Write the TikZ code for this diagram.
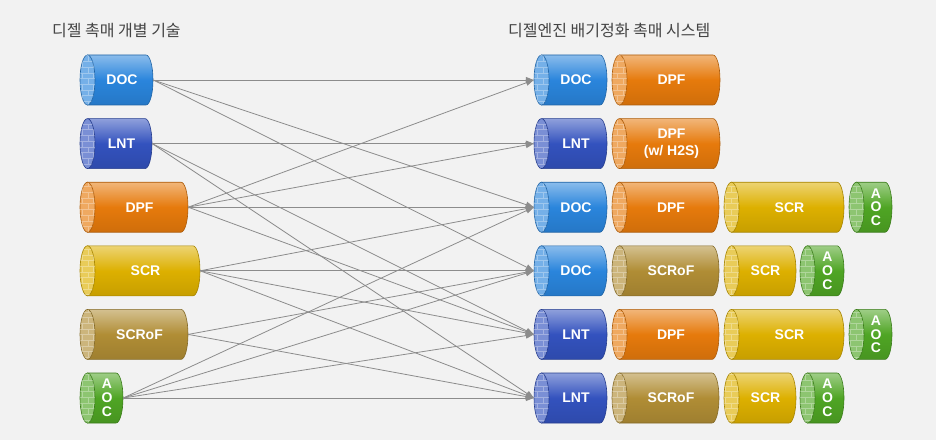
\documentclass[tikz,border=0pt]{standalone}
\usepackage{fontspec}
\setmainfont{Liberation Sans}
\newfontfamily\krfont{Noto Sans CJK KR}
\usetikzlibrary{arrows.meta,patterns}

\definecolor{bgcol}{HTML}{F2F2F2}
\definecolor{doccol}{HTML}{2A85DC}
\definecolor{lntcol}{HTML}{3352BE}
\definecolor{dpfcol}{HTML}{E67A0C}
\definecolor{scrcol}{HTML}{DDB000}
\definecolor{scrofcol}{HTML}{B08D35}
\definecolor{aoccol}{HTML}{4FA524}
\definecolor{linkcol}{HTML}{8C8C8C}
\definecolor{titlecol}{HTML}{444444}

\tikzset{
  link/.style={draw=linkcol, line width=0.8pt, -{Triangle[length=8pt,width=6pt]}},
  cyllabel/.style={text=white, font=\fontsize{14}{14}\selectfont\bfseries, minimum height=50pt, inner sep=0pt},
  title/.style={text=titlecol, font=\krfont\fontsize{16}{16}\selectfont, anchor=west, inner sep=0pt}
}

% cylinder: #1 name, #2 left x, #3 right x, #4 centre y, #5 colour, #6 text
\newcommand\cyl[6]{%
  \shadedraw[draw=#5!75!black, line width=0.6pt, top color=#5!55!white, bottom color=#5!90!black, middle color=#5]
    (#2+7.5,#4+25) -- (#3-7,#4+25) arc[start angle=90, end angle=-90, x radius=7, y radius=25] -- (#2+7.5,#4-25) -- cycle;
  \draw[draw=#5!75!black, line width=0.6pt, fill=#5!65!white] (#2+7.5,#4) ellipse[x radius=7.5, y radius=25];
  \fill[pattern=bricks, pattern color=white, opacity=0.3] (#2+7.5,#4) ellipse[x radius=7.5, y radius=25];
  \node[cyllabel, minimum width=#3-#2] (#1) at ({(#2+#3)/2},#4) {\hspace*{11pt}\shortstack{#6}};
}

\begin{document}
\begin{tikzpicture}[x=1pt,y=1pt]
  %%%%% START %%%%%
  \fill[bgcol] (0,0) rectangle (936,440);

  \node[title] (lefttitle) at (52,410) {디젤 촉매 개별 기술};
  \node[title] (righttitle) at (508,410) {디젤엔진 배기정화 촉매 시스템};

  % single technologies
  \cyl{doc}{80}{153}{360}{doccol}{DOC}
  \cyl{lnt}{80}{152}{296.4}{lntcol}{LNT}
  \cyl{dpf}{80}{188}{232.8}{dpfcol}{DPF}
  \cyl{scr}{80}{200}{169.2}{scrcol}{SCR}
  \cyl{scrof}{80}{188}{105.6}{scrofcol}{SCRoF}
  \cyl{aoc}{80}{123}{42}{aoccol}{A\\[1pt]O\\[1pt]C}

  % systems
  \cyl{s1doc}{534}{607}{360}{doccol}{DOC}
  \cyl{s1dpf}{612}{720}{360}{dpfcol}{DPF}

  \cyl{s2lnt}{534}{607}{296.4}{lntcol}{LNT}
  \cyl{s2dpf}{612}{720}{296.4}{dpfcol}{DPF\\[4pt](w/ H2S)}

  \cyl{s3doc}{534}{607}{232.8}{doccol}{DOC}
  \cyl{s3dpf}{612}{719}{232.8}{dpfcol}{DPF}
  \cyl{s3scr}{724}{844}{232.8}{scrcol}{SCR}
  \cyl{s3aoc}{849}{892}{232.8}{aoccol}{A\\[1pt]O\\[1pt]C}

  \cyl{s4doc}{534}{607}{169.2}{doccol}{DOC}
  \cyl{s4scrof}{612}{719}{169.2}{scrofcol}{SCRoF}
  \cyl{s4scr}{724}{796}{169.2}{scrcol}{SCR}
  \cyl{s4aoc}{800}{844}{169.2}{aoccol}{A\\[1pt]O\\[1pt]C}

  \cyl{s5lnt}{534}{607}{105.6}{lntcol}{LNT}
  \cyl{s5dpf}{612}{719}{105.6}{dpfcol}{DPF}
  \cyl{s5scr}{724}{844}{105.6}{scrcol}{SCR}
  \cyl{s5aoc}{849}{892}{105.6}{aoccol}{A\\[1pt]O\\[1pt]C}

  \cyl{s6lnt}{534}{607}{42}{lntcol}{LNT}
  \cyl{s6scrof}{612}{719}{42}{scrofcol}{SCRoF}
  \cyl{s6scr}{724}{796}{42}{scrcol}{SCR}
  \cyl{s6aoc}{800}{844}{42}{aoccol}{A\\[1pt]O\\[1pt]C}

  % which technology goes into which system
  \foreach \a/\b in {doc/s1doc, doc/s3doc, doc/s4doc,
                     lnt/s2lnt, lnt/s5lnt, lnt/s6lnt,
                     dpf/s1doc, dpf/s2lnt, dpf/s3doc, dpf/s5lnt,
                     scr/s3doc, scr/s4doc, scr/s5lnt, scr/s6lnt,
                     scrof/s4doc, scrof/s6lnt,
                     aoc/s3doc, aoc/s4doc, aoc/s5lnt, aoc/s6lnt}
    \draw[link] (\a.east) -- (\b.west);
  %%%%% END %%%%%
\end{tikzpicture}
\end{document}
